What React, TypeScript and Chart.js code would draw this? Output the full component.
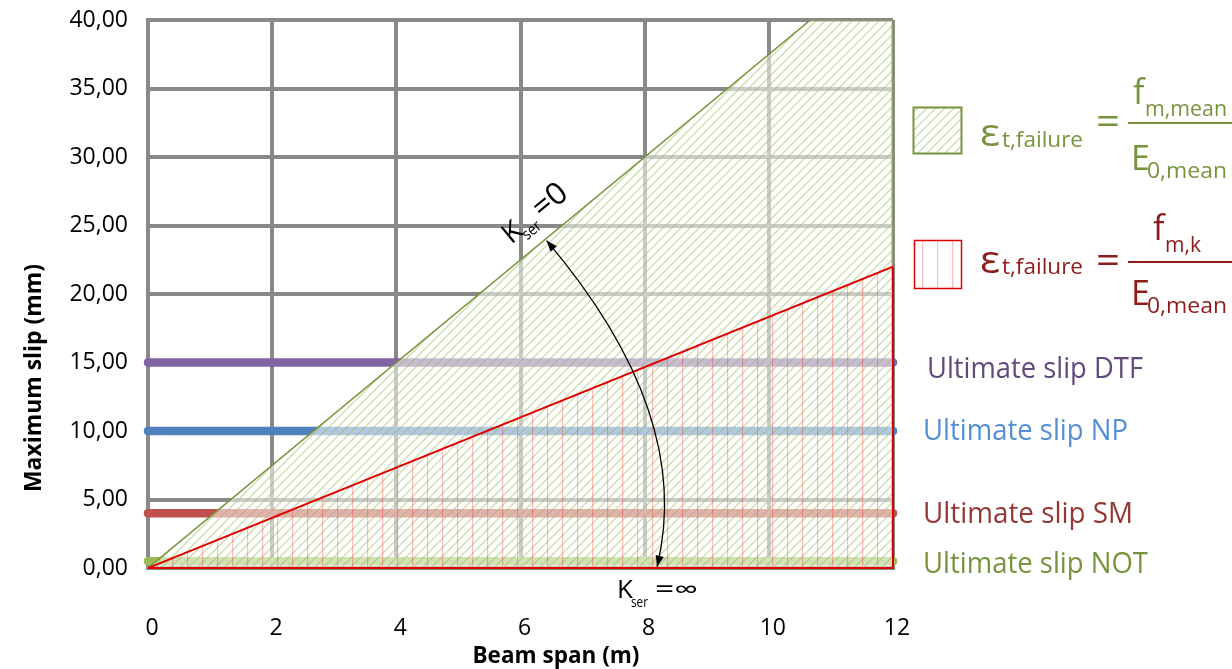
import React, { useEffect, useRef } from 'react';
import { Chart, registerables } from 'chart.js';

Chart.register(...registerables);

// ---------- data ----------
const spanRange = [0, 12];
const meanFailureSpan = [0, 10.67, 12, 12];
const meanFailureSlip = [0, 40, 40, 0];
const charFailureSpan = [0, 12];
const charFailureSlip = [0, 22];
const charOutlineSpan = [12, 12, 0];
const charOutlineSlip = [22, 0, 0];
const ultimateNames = ['Ultimate slip DTF', 'Ultimate slip NP', 'Ultimate slip SM', 'Ultimate slip NOT'];
const ultimateSlip = [15, 10, 4, 0.5];
// arrow between K_ser = 0 and K_ser = inf (data units: start, control, end)
const arrowSpan = [6.42, 8.8, 8.2];
const arrowSlip = [23.9, 11.2, 0.1];
const kZeroAnchor = [5.85, 23.6];

// ---------- styles ----------
const FAMILY = '"Open Sans", "DejaVu Sans", sans-serif';
const lineColors = ['#8064A2', '#4F81BD', '#C0504D', '#9BBB59'];
const labelColors = ['#604A7B', '#558ED5', '#953735', '#77933C'];
const labelX = [927, 923, 923, 923];
const labelDy = [15.5, 9, 10, 12];
const labelW = [216, 205, 210, 225];
const GREEN = '#77933C';
const RED_LINE = '#E00000';
const RED_TEXT = '#8E1A1A';
const GRID = '#898989';

function makeGreenHatch(): CanvasPattern {
  const s = 9;
  const c = document.createElement('canvas');
  c.width = s; c.height = s;
  const g = c.getContext('2d')!;
  g.fillStyle = 'rgba(255,255,255,0.56)';
  g.fillRect(0, 0, s, s);
  g.strokeStyle = 'rgba(155,187,89,0.5)';
  g.lineWidth = 1.4;
  g.beginPath();
  g.moveTo(0, s); g.lineTo(s, 0);
  g.moveTo(-2, 2); g.lineTo(2, -2);
  g.moveTo(s - 2, s + 2); g.lineTo(s + 2, s - 2);
  g.stroke();
  return g.createPattern(c, 'repeat')!;
}

function makeRedHatch(): CanvasPattern {
  const w = 15;
  const c = document.createElement('canvas');
  c.width = w; c.height = 4;
  const g = c.getContext('2d')!;
  g.fillStyle = 'rgba(255,60,60,0.35)';
  g.fillRect(7, 0, 1.2, 4);
  return g.createPattern(c, 'repeat')!;
}

type TOpts = { weight?: string; color?: string; width?: number; rot?: number; align?: 'left' | 'center'; baseline?: CanvasTextBaseline };

function drawText(ctx: CanvasRenderingContext2D, text: string, x: number, y: number, size: number, o: TOpts = {}) {
  ctx.save();
  ctx.font = `${o.weight || 'normal'} ${size}px ${FAMILY}`;
  const w = ctx.measureText(text).width;
  const sx = o.width ? o.width / w : 1;
  ctx.translate(x, y);
  if (o.rot) ctx.rotate(o.rot);
  ctx.scale(sx, 1);
  ctx.textAlign = 'left';
  ctx.textBaseline = o.baseline || 'alphabetic';
  ctx.fillStyle = o.color || '#000';
  ctx.fillText(text, o.align === 'center' ? -w / 2 : 0, 0);
  ctx.restore();
}

function arrowHead(ctx: CanvasRenderingContext2D, tipX: number, tipY: number, fromX: number, fromY: number) {
  const a = Math.atan2(tipY - fromY, tipX - fromX);
  const L = 11, H = 4.2;
  ctx.beginPath();
  ctx.moveTo(tipX, tipY);
  ctx.lineTo(tipX - L * Math.cos(a) + H * Math.sin(a), tipY - L * Math.sin(a) - H * Math.cos(a));
  ctx.lineTo(tipX - L * Math.cos(a) - H * Math.sin(a), tipY - L * Math.sin(a) + H * Math.cos(a));
  ctx.closePath();
  ctx.fill();
}

export default function App() {
  const ref = useRef<HTMLCanvasElement>(null);

  useEffect(() => {
    document.body.style.margin = '0';
    const canvas = ref.current!;
    const greenHatch = makeGreenHatch();
    const redHatch = makeRedHatch();
    const pts = (xs: number[], ys: number[]) => xs.map((x, i) => ({ x, y: ys[i] }));

    const datasets: any[] = [
      { label: 'charOutline', data: pts(charOutlineSpan, charOutlineSlip), borderColor: RED_LINE, borderWidth: 2, pointRadius: 0, fill: false, clip: false, order: 0 },
      { label: 'charFailure', data: pts(charFailureSpan, charFailureSlip), borderColor: RED_LINE, borderWidth: 2, backgroundColor: redHatch, fill: 'origin', pointRadius: 0, order: 1 },
      { label: 'meanFailure', data: pts(meanFailureSpan, meanFailureSlip), borderColor: GREEN, borderWidth: 1.5, backgroundColor: greenHatch, fill: 'origin', pointRadius: 0, order: 2 },
    ];
    ultimateNames.forEach((n, i) => {
      datasets.push({
        label: n,
        data: spanRange.map((x) => ({ x, y: ultimateSlip[i] })),
        borderColor: lineColors[i],
        backgroundColor: lineColors[i],
        borderWidth: 8.5,
        borderCapStyle: 'round',
        pointRadius: 4,
        pointBorderWidth: 0,
        pointBackgroundColor: lineColors[i],
        fill: false,
        clip: false,
        order: 10 + i,
      });
    });

    const annot = {
      id: 'annot',
      afterDatasetsDraw(chart: any) {
        const ctx: CanvasRenderingContext2D = chart.ctx;
        const xs = chart.scales.x, ys = chart.scales.y;
        const px = (v: number) => xs.getPixelForValue(v);
        const py = (v: number) => ys.getPixelForValue(v);

        // arrow
        const p0 = [px(arrowSpan[0]), py(arrowSlip[0])];
        const c1 = [px(arrowSpan[1]), py(arrowSlip[1])];
        const p2 = [px(arrowSpan[2]), py(arrowSlip[2])];
        ctx.save();
        ctx.strokeStyle = '#000';
        ctx.fillStyle = '#000';
        ctx.lineWidth = 1.3;
        ctx.beginPath();
        ctx.moveTo(p0[0], p0[1]);
        ctx.quadraticCurveTo(c1[0], c1[1], p2[0], p2[1]);
        ctx.stroke();
        arrowHead(ctx, p0[0], p0[1], c1[0], c1[1]);
        arrowHead(ctx, p2[0], p2[1], c1[0], c1[1]);
        ctx.restore();

        // K_ser = 0 (rotated along the mean failure line)
        const ang = Math.atan2(py(meanFailureSlip[1]) - py(meanFailureSlip[0]), px(meanFailureSpan[1]) - px(meanFailureSpan[0]));
        const ax = px(kZeroAnchor[0]), ay = py(kZeroAnchor[1]);
        ctx.save();
        ctx.translate(ax, ay);
        ctx.rotate(ang);
        drawText(ctx, 'K', 0, 0, 28);
        drawText(ctx, 'ser', 15, 7, 16, { width: 20 });
        drawText(ctx, '=0', 40, 0, 31, { width: 36 });
        ctx.restore();

        // K_ser = inf
        drawText(ctx, 'K', 617, 598, 26);
        drawText(ctx, 'ser', 631, 607, 15, { width: 17 });
        drawText(ctx, '=∞', 655, 598, 25, { width: 43 });

        // ultimate slip labels
        ultimateNames.forEach((n, i) => {
          drawText(ctx, n, labelX[i], py(ultimateSlip[i]) + labelDy[i], 29, { color: labelColors[i], width: labelW[i] });
        });

        // axis titles
        drawText(ctx, 'Maximum slip (mm)', 41, 378, 24, { weight: 'bold', width: 228, rot: -Math.PI / 2, align: 'center' });
        drawText(ctx, 'Beam span (m)', 556, 663, 23, { weight: 'bold', width: 167, align: 'center' });

        // legend boxes
        ctx.save();
        ctx.fillStyle = greenHatch;
        ctx.fillRect(913.5, 107.5, 48, 46);
        ctx.strokeStyle = GREEN;
        ctx.lineWidth = 2;
        ctx.strokeRect(913.5, 107.5, 48, 46);
        ctx.fillStyle = '#fff';
        ctx.fillRect(914, 241, 47, 47);
        ctx.fillStyle = redHatch;
        ctx.fillRect(914, 241, 47, 47);
        ctx.strokeStyle = RED_LINE;
        ctx.lineWidth = 1.5;
        ctx.strokeRect(914.5, 240.5, 47, 48);
        ctx.restore();

        // formulas
        const formula = (color: string, yE: number, yBar: number, yNum: number, numSub: string, numSubW: number, numX: number, yDen: number) => {
          drawText(ctx, 'ε', 980, yE, 38, { color, width: 20 });
          drawText(ctx, 't,failure', 1002, yE + 1, 21, { color, width: 81 });
          drawText(ctx, '=', 1096, yBar + 1, 36, { color, width: 24, baseline: 'middle' });
          ctx.save();
          ctx.strokeStyle = color;
          ctx.lineWidth = 2;
          ctx.beginPath();
          ctx.moveTo(1128, yBar);
          ctx.lineTo(1232, yBar);
          ctx.stroke();
          ctx.restore();
          drawText(ctx, 'f', numX, yNum, 34, { color });
          drawText(ctx, numSub, numX + 12, yNum + 12, 22, { color, width: numSubW });
          drawText(ctx, 'E', 1131, yDen, 34, { color });
          drawText(ctx, '0,mean', 1147, yDen + 8, 22, { color, width: 80 });
        };
        formula(GREEN, 146, 123, 104, 'm,mean', 82, 1133, 170);
        formula(RED_TEXT, 273, 262, 240, 'm,k', 36, 1153, 305);
      },
    };

    const chart = new Chart(canvas, {
      type: 'line',
      data: { datasets },
      options: {
        animation: false,
        responsive: false,
        devicePixelRatio: 1,
        layout: { padding: { left: 0, right: 339, top: 20, bottom: 0 } },
        plugins: { legend: { display: false }, tooltip: { enabled: false } },
        elements: { line: { tension: 0 } },
        scales: {
          x: {
            type: 'linear',
            min: 0,
            max: 12,
            afterFit: (s: any) => { s.height = 101; s.paddingLeft = 0; s.paddingRight = 0; },
            grid: { color: GRID, lineWidth: 4, drawTicks: false },
            border: { color: GRID, width: 4 },
            ticks: { stepSize: 2, padding: 47, labelOffset: 4, maxRotation: 0, color: '#000', font: { family: FAMILY, size: 23 } },
          },
          y: {
            type: 'linear',
            min: 0,
            max: 40,
            afterFit: (s: any) => { s.width = 148; s.paddingTop = 0; s.paddingBottom = 0; },
            grid: { color: GRID, lineWidth: 4, drawTicks: false },
            border: { color: GRID, width: 4 },
            ticks: {
              stepSize: 5,
              padding: 20,
              color: '#000',
              font: { family: FAMILY, size: 23 },
              callback: (v: any) => Number(v).toFixed(2).replace('.', ','),
            },
          },
        },
      },
      plugins: [annot],
    });
    return () => chart.destroy();
  }, []);

  return (
    <div style={{ width: 1232, height: 669 }}>
      <canvas ref={ref} width={1232} height={669} />
    </div>
  );
}
